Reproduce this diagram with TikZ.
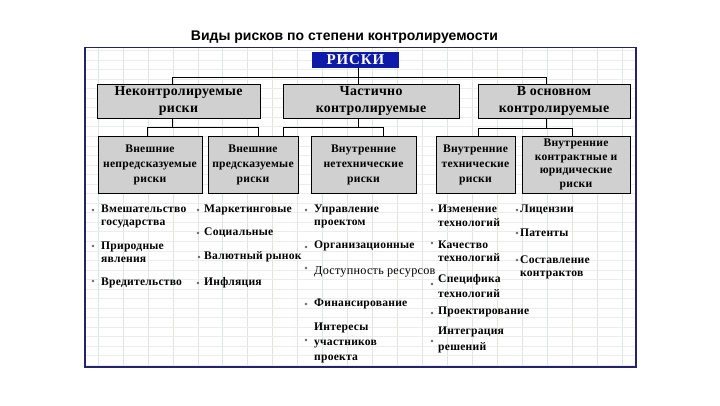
\documentclass[tikz,border=0pt]{standalone}
\usepackage{fontspec}
\setmainfont{Liberation Serif}
\newfontfamily\titlefont{Liberation Sans}
\newfontfamily\spserif[LetterSpace=2]{Liberation Serif}
\newfontfamily\wideserif[LetterSpace=6]{Liberation Serif}
\usetikzlibrary{shadows}
\definecolor{navy}{RGB}{35,35,110}
\definecolor{riskblue}{RGB}{14,26,168}
\definecolor{boxgray}{RGB}{208,208,208}
\definecolor{gridgray}{RGB}{225,229,225}
\definecolor{gridgrayh}{RGB}{234,237,234}
\definecolor{dotgray}{RGB}{100,100,110}
\begin{document}
\begin{tikzpicture}[x=1pt,y=-1pt,
  gridline/.style={draw=gridgray, line width=0.6pt},
  gridlineh/.style={draw=gridgrayh, line width=0.6pt},
  frame/.style={draw=navy, line width=1.6pt},
  box/.style={draw=black, line width=0.8pt, fill=boxgray, align=center, inner sep=0pt,
    drop shadow={shadow xshift=1.4pt, shadow yshift=-1.4pt, fill=black!70, opacity=0.9}},
  lvlone/.style={box, minimum height=34pt, font=\fontsize{13.9}{17}\selectfont\spserif\bfseries},
  lvltwo/.style={box, minimum height=57pt, font=\fontsize{11.6}{15}\selectfont\spserif\bfseries},
  conn/.style={draw=black, line width=0.9pt},
  item/.style={anchor=west, align=left, inner sep=0pt, font=\fontsize{11.6}{13.5}\selectfont\spserif\bfseries},
  itemreg/.style={anchor=west, align=left, inner sep=0pt, font=\fontsize{12.2}{13.5}\selectfont\spserif}
]
\useasboundingbox (0,0) rectangle (720,405);
% title
\node[font=\fontsize{14}{16}\selectfont\titlefont\bfseries, inner sep=0pt] (title) at (344.5,37) {Виды рисков по степени контролируемости};
% frame with grid
\fill[white] (85,47.5) rectangle (636,367);
\begin{scope}
\clip (85,47.5) rectangle (636,367);
\foreach \i in {0,...,22} \draw[gridline] ({73.05+\i*24.95},47.5) -- ++(0,319.5);
\foreach \j in {0,...,33} \draw[gridlineh] (85,{50.46+\j*9.54}) -- ++(551,0);
\end{scope}
\draw[frame] (85,47.5) rectangle (636,367);
% top node
\node[fill=riskblue, text=white, inner sep=0pt, minimum width=87pt, minimum height=16pt,
  font=\fontsize{15}{15}\selectfont\wideserif\bfseries] (riski) at (355.5,60) {РИСКИ};
% level 1
\node[lvlone, minimum width=163pt] (l1a) at (178.5,101) {Неконтролируемые\\риски};
\node[lvlone, minimum width=176pt] (l1b) at (371,101) {Частично\\контролируемые};
\node[lvlone, minimum width=152pt] (l1c) at (554,101) {В основном\\контролируемые};
% level 2
\node[lvltwo, minimum width=104pt] (b1) at (150,164.5) {Внешние\\непредсказуемые\\риски};
\node[lvltwo, minimum width=90pt] (b2) at (253,164.5) {Внешние\\предсказуемые\\риски};
\node[lvltwo, minimum width=105pt] (b3) at (363.5,164.5) {Внутренние\\нетехнические\\риски};
\node[lvltwo, minimum width=79pt] (b4) at (475.5,164.5) {Внутренние\\технические\\риски};
\node[lvltwo, minimum width=108pt, font=\fontsize{11.6}{13.5}\selectfont\spserif\bfseries] (b5) at (576,164.5) {Внутренние\\контрактные и\\юридические\\риски};
% connectors level 0 -> 1
\coordinate (top) at (358,77);
\coordinate (ja) at (172,77);
\coordinate (jc) at (546,77);
\draw[conn] (riski.south -| top) -- (l1b.north -| top);
\draw[conn] (l1a.north -| ja) -- (ja) -- (jc) -- (l1c.north -| jc);
% connectors level 1 -> 2
\coordinate (ha) at (172,127);
\coordinate (ha1) at (147,127);
\coordinate (ha2) at (258,127);
\coordinate (hb) at (358,127);
\coordinate (hb1) at (283,127);
\coordinate (hb2) at (383,127);
\coordinate (hc) at (546,128);
\coordinate (hc1) at (478,128);
\coordinate (hc2) at (572,128);
\draw[conn] (l1a.south -| ha) -- (ha);
\draw[conn] (b1.north -| ha1) -- (ha1) -- (ha2) -- (b2.north -| ha2);
\draw[conn] (l1b.south -| hb) -- (hb);
\draw[conn] (b2.north -| hb1) -- (hb1) -- (hb2) -- (b3.north -| hb2);
\draw[conn] (l1c.south -| hc) -- (hc);
\draw[conn] (b4.north -| hc1) -- (hc1) -- (hc2) -- (b5.north -| hc2);
% bullets
\foreach \x/\y in {93/210, 93/246, 93/281,
                   198/210, 198/233, 199/257, 198/283,
                   306/210, 306/247, 306/268, 306/304, 306/340,
                   432/210, 432/243, 432/284, 432/313, 432/341,
                   517/210, 517/233, 517/260}
  \fill[dotgray] (\x,\y) circle (1.4pt);
% column 1
\node[item] (c1a) at (101,216.5) {Вмешательство\\государства};
\node[item] (c1b) at (101,252.5) {Природные\\явления};
\node[item] (c1c) at (101,283) {Вредительство};
% column 2
\node[item] (c2a) at (204,210) {Маркетинговые};
\node[item] (c2b) at (204,233) {Социальные};
\node[item] (c2c) at (204,257) {Валютный рынок};
\node[item] (c2d) at (204,283) {Инфляция};
% column 3
\node[item] (c3a) at (314,216.5) {Управление\\проектом};
\node[item] (c3b) at (314,246) {Организационные};
\node[itemreg] (c3c) at (314,272) {Доступность ресурсов};
\node[item] (c3d) at (314,304) {Финансирование};
\node[item] (c3e) at (314,343) {Интересы\\[1.5pt]участников\\[1.5pt]проекта};
% column 4
\node[item] (c4a) at (438,216) {Изменение\\технологий};
\node[item] (c4b) at (438,251.5) {Качество\\технологий};
\node[item] (c4c) at (438,286) {Специфика\\[2pt]технологий};
\node[item] (c4d) at (438,312) {Проектирование};
\node[item] (c4e) at (438,340) {Интеграция\\[3pt]решений};
% column 5
\node[item] (c5a) at (520,210) {Лицензии};
\node[item] (c5b) at (520,233) {Патенты};
\node[item] (c5c) at (520,267.5) {Составление\\контрактов};
\end{tikzpicture}
\end{document}
